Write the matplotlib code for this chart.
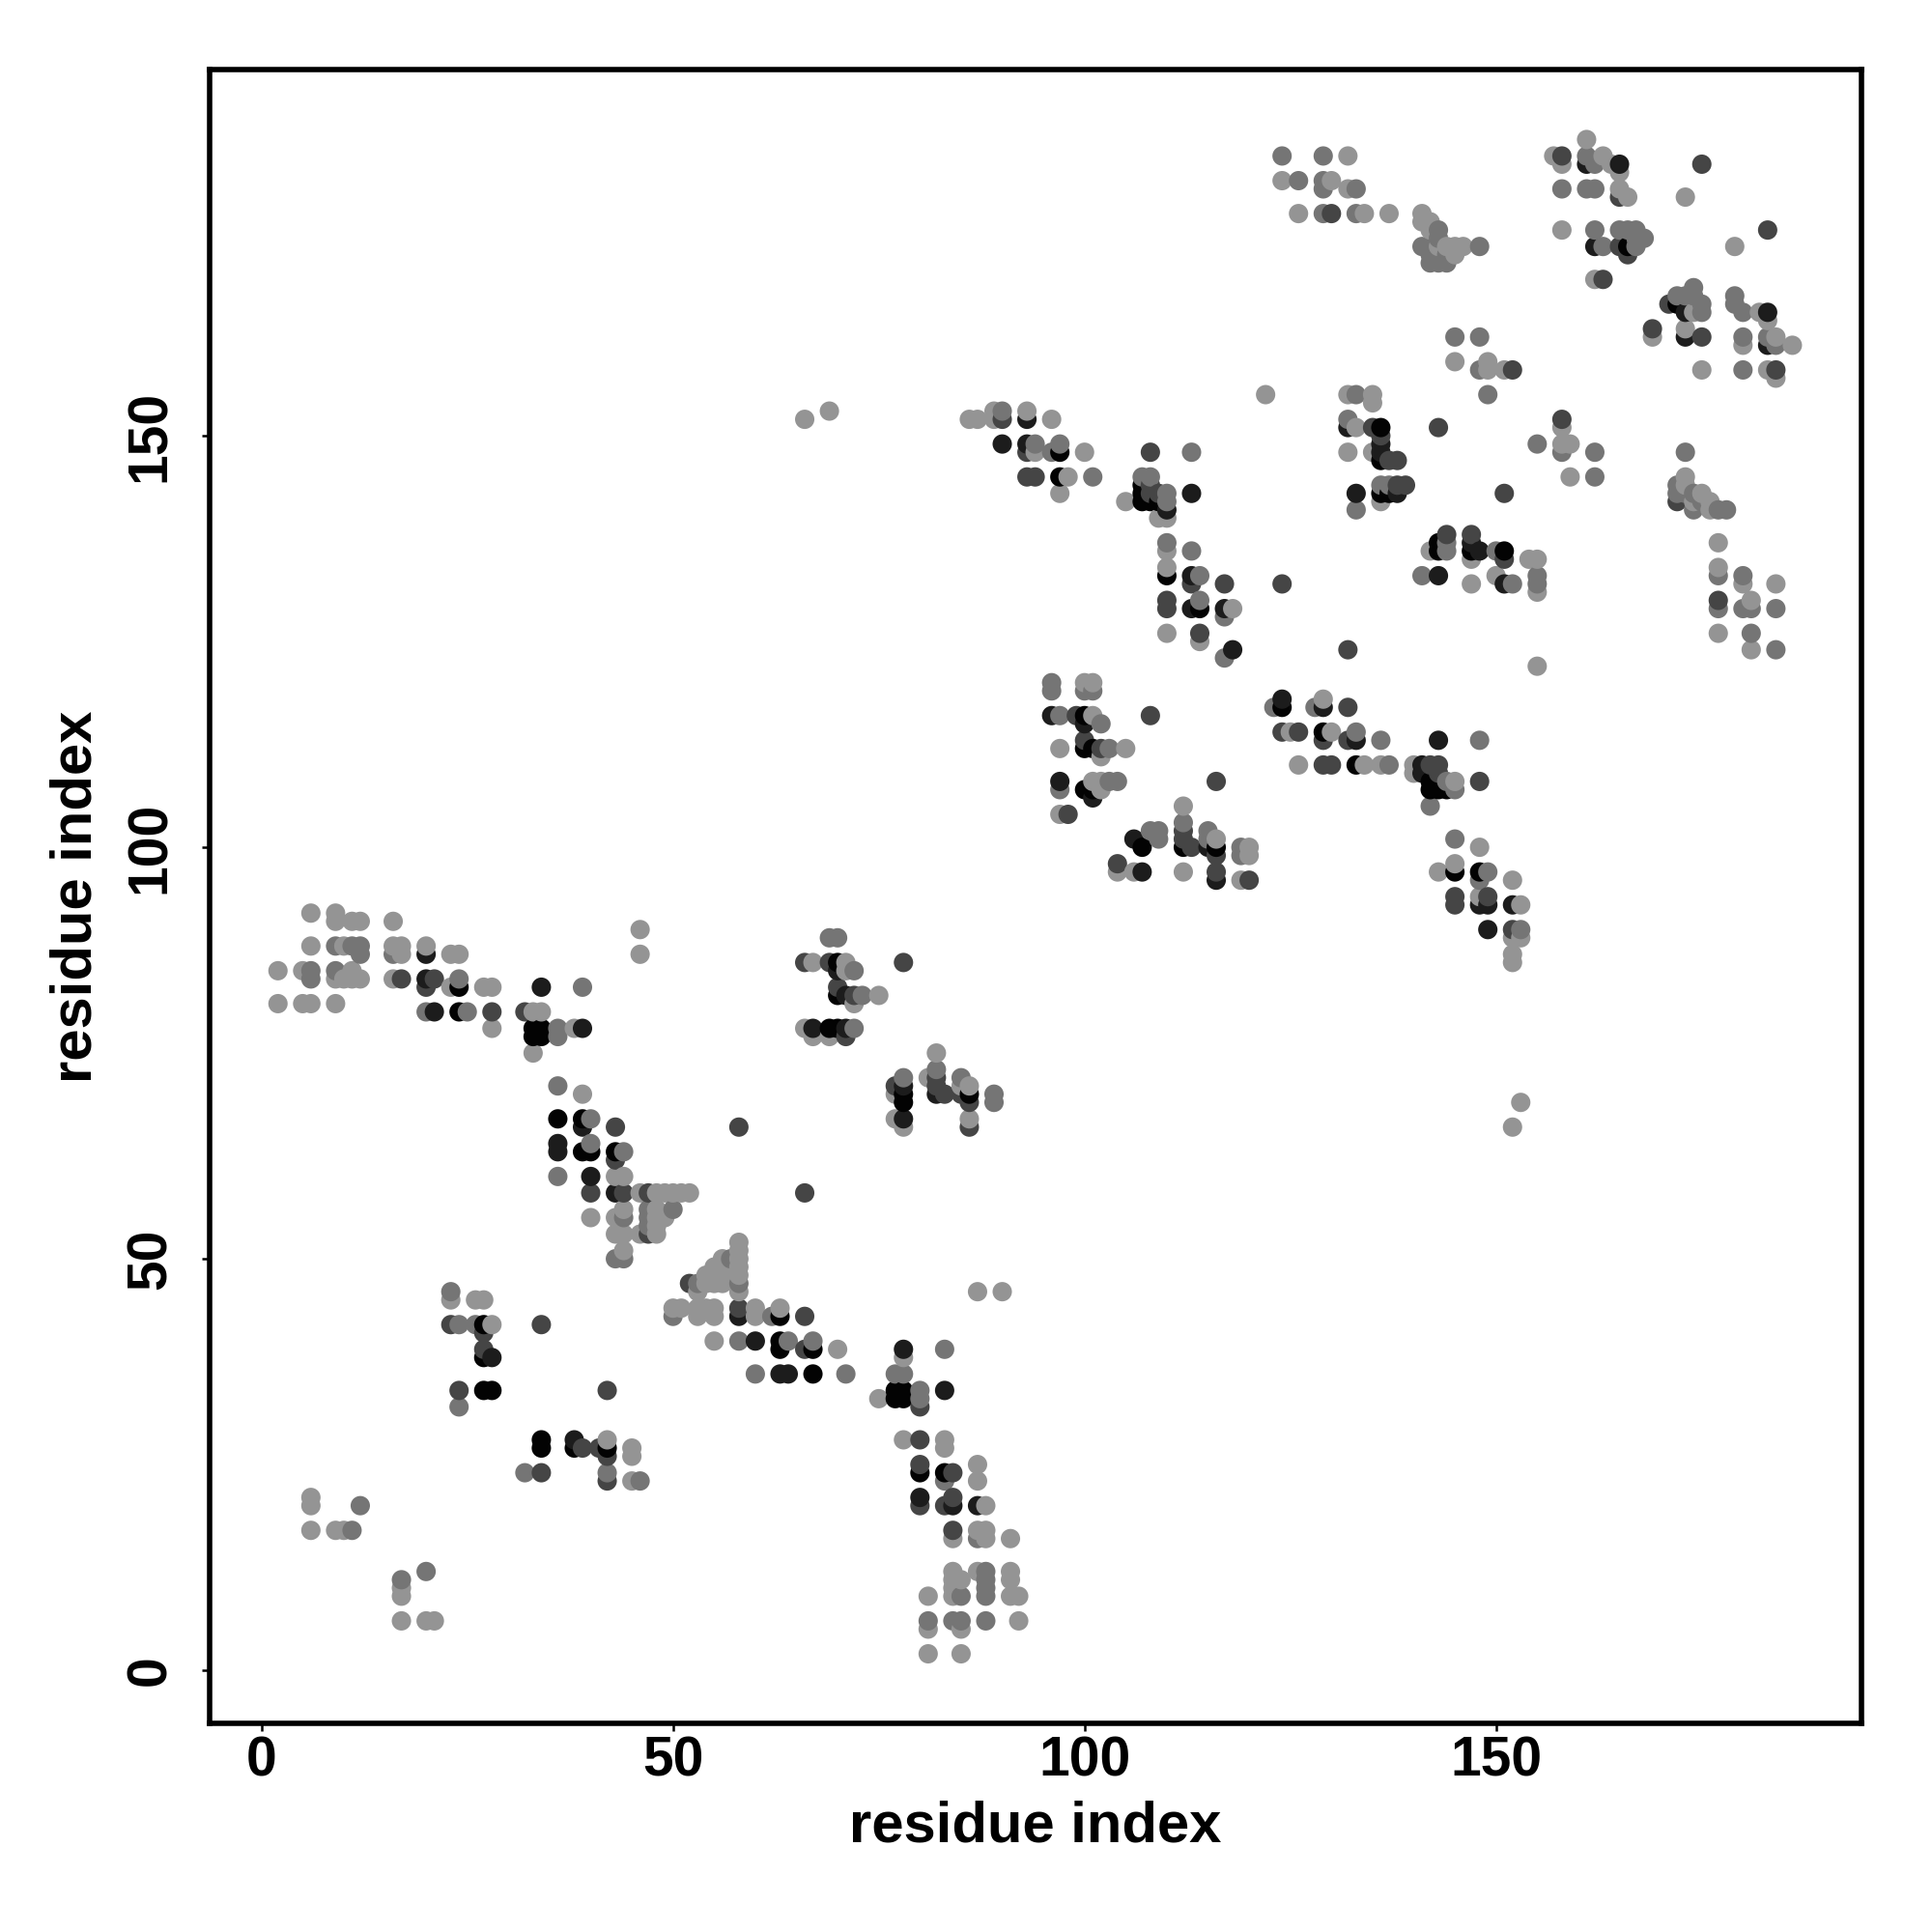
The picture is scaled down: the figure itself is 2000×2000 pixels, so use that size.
import numpy as np
import matplotlib
matplotlib.use('Agg')
import matplotlib.pyplot as plt

plt.rcParams['font.family'] = ['Liberation Sans', 'DejaVu Sans']

# contacts (residue i, residue j), grouped by how dark the point looks
light = [(6,92),(9,92),(9,91),(11,91),(12,91),(16,91),(6,88),(10,88),(16,88),(17,88),(20,88),(17,87),(23,87),(24,87),
    (46,90),(46,87),(2,85),(5,85),(11,85),(9,84),(10,84),(11,84),(12,84),(16,84),(23,83),(27,83),(28,83),(2,81),(5,81),
    (6,81),(9,81),(33,80),(34,80),(28,78),(38,78),(33,75),(39,70),(43,60),(44,60),(46,58),(48,58),(49,58),(50,58),(51,58),
    (52,58),(44,56),(48,56),(40,55),(43,55),(48,55),(49,55),(48,54),(43,53),(44,53),(46,53),(48,53),(44,51),
    (54,47),(55,47),(56,47),(53,46),(58,46),(54,48),(55,48),(56,48),(57,48),(58,48),(55,49),(56,49),(58,50),(56,50),
    (58,51),(58,52),(58,49),(50,44),(51,44),(53,44),(54,44),(55,44),(60,44),(63,44),(53,43),(55,43),(60,43),(55,40),
    (70,39),(87,46),(90,46),(78,38),(75,33),(78,28),(83,28),(83,27),(87,25),(87,23),(88,20),(84,16),(87,17),(88,17),
    (88,16),(91,16),(84,12),(87,12),(91,12),(84,11),(85,11),(91,11),(84,10),(81,9),(84,9),(91,9),(92,9),(92,6),(81,5),
    (85,5),(81,2),(85,2),(23,45),(26,45),(27,45),(28,42),(42,28),(45,27),(45,26),(45,23),(6,21),(6,20),(6,17),(9,17),
    (10,17),(17,10),(17,9),(17,6),(20,6),(21,6),(66,152),(69,153),
    (86,152),(87,152),(89,152),(96,152),(89,153),(93,153),(94,148),(100,148),(98,145),(97,143),(105,142),(109,140),
    (110,140),(110,136),(110,134),(118,129),(110,126),(114,125),(100,120),(101,120),(101,116),(97,112),
    (105,112),(102,111),(101,108),(102,108),(102,107),(97,104),(112,105),(116,101),(120,100),(120,99),(104,97),(106,97),
    (112,97),(119,96),(122,155),(132,184),(124,181),(130,181),(132,180),(126,177),(134,177),(137,177),(141,177),(141,176),
    (142,176),(142,175),(143,173),(144,173),(145,173),(146,173),(145,172),(157,184),(158,183),(161,186),(163,184),
    (164,183),(165,182),(165,180),(166,179),(173,179),(158,175),(179,173),(162,169),(174,165),(182,165),(183,164),
    (169,162),(173,163),(180,161),(184,162),(186,161),(175,158),(183,158),(184,157),(145,159),(149,159),(149,158),
    (151,158),(132,155),(135,155),(135,154),(133,151),(132,148),(135,148),(136,142),(155,122),(158,151),(158,149),
    (159,149),(159,145),(173,145),(173,144),(175,143),(174,142),(176,142),(176,141),(177,137),(177,134),(180,132),
    (184,132),(181,130),(177,126),(181,124),(142,136),(147,135),(154,135),(155,135),(147,132),(150,133),(155,131),
    (125,114),(129,118),(130,114),(126,110),(134,110),(136,110),(140,110),(140,109),(145,108),(148,100),(145,98),
    (143,97),(152,96),(148,94),(153,93),(152,89),(153,89),(152,87),(152,86),(153,69),(152,66),(67,86),(71,86),(71,85),
    (72,81),(75,82),(66,78),(67,77),(69,77),(82,75),(77,70),(81,72),(85,71),(86,71),(77,67),(78,66),(86,67)]

mid = [(9,88),(11,88),(12,88),(12,87),(16,87),(6,85),(9,85),(6,84),(24,84),(39,83),(20,80),(25,80),(36,78),(36,77),
    (36,71),(40,67),(40,64),(44,63),(36,60),(44,55),(47,56),(50,56),(47,55),(47,54),(43,50),(44,50),(53,47),(58,47),
    (57,50),(50,43),(62,43),(58,40),(64,40),(67,40),(60,36),(71,36),(83,39),(77,36),(78,36),(80,34),(80,33),(83,23),
    (87,16),(88,12),(88,11),(88,10),(85,9),(88,9),(81,6),(84,6),(85,6),(88,6),(23,46),(24,42),(26,42),(24,32),(32,24),
    (42,24),(46,23),(12,20),(11,17),(20,12),(17,11),(90,153),(94,149),(97,149),(96,148),(113,148),(101,145),(107,145),
    (108,145),(110,143),(110,142),(110,137),(113,136),(114,133),(114,130),(117,128),(117,123),
    (96,120),(96,119),(100,119),(101,119),(97,116),(102,115),(103,112),(103,108),(104,108),(97,107),(112,103),(109,102),
    (115,102),(108,102),(109,101),(115,101),(119,100),(119,99),(124,184),(129,184),(126,181),(129,181),(129,180),
    (133,180),(129,177),(133,177),(143,175),(143,174),(141,173),(142,173),(142,172),(143,172),(144,172),(142,171),
    (143,171),(144,171),(148,173),(161,184),(162,183),(158,180),(161,180),(162,180),(162,175),(165,175),(166,175),
    (167,175),(168,174),(163,173),(167,173),(167,174),(174,168),(172,167),(173,167),(174,167),(175,166),
    (175,165),(179,167),(179,166),(180,165),(180,162),(183,162),(184,161),(180,158),(145,162),(148,162),(148,158),
    (149,155),(132,152),(136,144),(137,144),(133,141),(155,149),(158,148),(162,148),(162,145),(173,148),(172,144),
    (174,143),(172,143),(173,143),(175,142),(174,141),(177,141),(178,141),(177,133),(180,133),(177,129),(180,129),
    (181,129),(184,129),(181,126),(184,124),(144,137),(144,136),(150,136),(141,133),(152,132),(155,133),(155,132),
    (133,155),(123,117),(128,117),(136,113),(148,113),(137,110),(144,108),(145,107),(142,105),(145,101),(149,97),
    (148,96),(153,90),(133,114),(69,89),(70,89),(72,85),(73,82),(72,78),(82,73),(78,72),(85,72),(89,70),(89,69)]

dark = [(17,84),(21,84),(20,83),(28,80),(32,80),(43,66),(58,66),(43,62),(40,58),(44,58),(47,58),(47,53),(52,47),(58,44),
    (66,43),(66,39),(80,32),(80,28),(80,25),(84,24),(80,20),(83,20),(84,21),(84,17),(23,42),(27,41),(27,39),(34,42),
    (24,34),(42,34),(39,27),(41,27),(42,26),(34,24),(42,23),(66,58),(90,152),(93,148),(108,148),(93,145),(94,145),
    (108,144),(108,143),(109,143),(113,132),(117,132),(124,132),(110,130),(110,129),(114,126),
    (132,124),(99,116),(108,116),(100,113),(102,112),(116,108),(98,104),(112,102),(112,101),(113,100),(116,99),(104,98),
    (116,97),(120,96),(135,151),(143,151),(136,150),(137,147),(138,147),(139,144),(138,144),(151,143),(158,152),(144,138),
    (147,138),(151,135),(130,177),(158,184),(165,179),(171,166),(165,173),(166,172),(169,163),(163,169),(175,162),
    (184,158),(177,130),(172,142),(175,183),(183,175),(152,158),(124,114),(126,114),(132,117),(132,113),(129,113),
    (129,110),(130,110),(142,110),(143,110),(143,109),(148,108),(145,94),(145,93),(149,94),(152,90),(66,86),(69,86),
    (78,86),(70,83),(72,82),(71,77),(77,71),(82,72),(82,71),(83,70),(85,70),(86,69),(86,66)]

very_dark = [(20,87),(20,84),(34,83),(21,80),(39,78),(39,66),(36,64),(36,63),(40,60),(43,58),(58,43),(60,40),(63,36),
    (64,36),(78,39),(83,34),(87,20),(84,20),(80,21),(28,38),(38,28),(93,152),(90,149),(93,149),(110,141),(113,143),
    (113,133),(113,129),(117,129),(118,124),(96,116),(100,115),(97,108),(101,106),(106,101),(115,100),(107,97),(116,96),
    (132,151),(136,149),(136,148),(133,143),(138,143),(143,133),(147,137),(148,136),(151,132),(161,183),(165,183),
    (162,173),(173,165),(173,162),(183,165),(183,161),(124,118),(129,117),(133,113),(143,113),(141,110),(141,109),
    (148,93),(149,93),(152,93),(149,90),(67,78),(71,78),(70,85),(71,82),(78,71),(82,70),(78,67)]

black = [(24,83),(24,80),(33,78),(34,78),(33,77),(34,77),(36,67),(39,67),(39,63),(40,63),(43,63),(63,43),(63,40),(63,39),
    (67,39),(67,36),(27,42),(27,38),(27,34),(28,34),(34,28),(34,27),(38,27),(42,27),(77,34),(78,34),(77,33),(78,33),
    (80,24),(83,24),(107,144),(107,143),(107,142),(108,142),(109,142),(97,148),(97,145),(110,133),(114,129),
    (124,117),(100,116),(100,112),(101,112),(100,107),(101,107),(107,100),(112,100),(116,100),(136,151),(136,147),
    (136,143),(137,143),(143,137),(143,136),(147,136),(151,136),(166,173),(172,166),(129,114),(133,110),(142,108),
    (142,107),(143,107),(144,107),(145,97),(148,97),(69,78),(70,78),(70,86),(70,82),(78,70),(78,69),(86,70)]

shade_groups = [light, mid, dark, very_dark, black]
shade_values = [0.58, 0.46, 0.27, 0.11, 0.01]
ticks = [0, 50, 100, 150]

pts = []
for group, val in zip(shade_groups, shade_values):
    for i, j in group:
        pts.append((i, j, val))
pts = np.array(pts)
# points were plotted in residue order, later ones sit on top
pts = pts[np.lexsort((pts[:, 1], pts[:, 0]))]

fig = plt.figure(figsize=(10, 10), dpi=200)
ax = fig.add_axes([216.7/2000, 1-1784/2000, (1927-216.7)/2000, (1784-72)/2000])

ax.scatter(pts[:, 0], pts[:, 1], s=52, c=[str(v) for v in pts[:, 2]], linewidths=0)

ax.set_xlim(-6.34, 194.4)
ax.set_ylim(-6.45, 194.5)
ax.set_xticks(ticks)
ax.set_yticks(ticks)
ax.tick_params(length=3, width=0.9, labelsize=20.5)
ax.tick_params(axis='x', pad=1.5)
ax.tick_params(axis='y', pad=9)
for lab in ax.get_xticklabels():
    lab.set_fontweight('bold')
for lab in ax.get_yticklabels():
    lab.set_fontweight('bold')
    lab.set_rotation(90)
    lab.set_va('center')
for sp in ax.spines.values():
    sp.set_linewidth(2.0)

ax.set_xlabel('residue index', fontsize=21.5, fontweight='bold', va='center')
ax.set_ylabel('residue index', fontsize=21.5, fontweight='bold', va='center')
ax.xaxis.set_label_coords(0.5, -0.0625)
ax.yaxis.set_label_coords(-0.0805, 0.5)

fig.savefig('out.png', dpi=200)
